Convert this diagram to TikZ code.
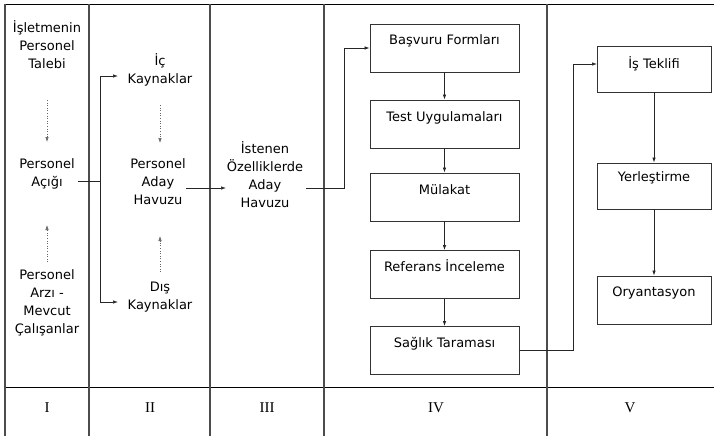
\documentclass[tikz,border=0pt]{standalone}
\usepackage{fontspec}
\setmainfont{DejaVu Sans}
\newfontfamily\romfont{Liberation Serif}
\usetikzlibrary{arrows.meta}
\begin{document}
\begin{tikzpicture}[x=1pt,y=-1pt,
  txt/.style={align=center,inner sep=0pt,font=\fontsize{13}{18}\selectfont},
  rom/.style={inner sep=0pt,font=\romfont\fontsize{15}{15}\selectfont},
  colline/.style={draw=black!70,line width=1.1pt},
  rowline/.style={draw=black,line width=0.9pt},
  boxiv/.style={draw=black!80,line width=0.9pt,minimum width=149pt,minimum height=48pt,
     inner xsep=0pt,inner ysep=4pt,text height=17pt,text depth=23pt,align=center,
     font=\fontsize{13}{15}\selectfont},
  boxv/.style={draw=black!80,line width=0.9pt,minimum width=114pt,inner xsep=0pt,inner ysep=0pt,
     align=center,font=\fontsize{13}{15}\selectfont},
  conn/.style={draw=black!85,line width=0.7pt,-{Latex[length=5pt,width=3.5pt]}},
  plain/.style={draw=black!85,line width=0.7pt},
  dots/.style={draw=black!60,line width=0.6pt,dotted,-{Latex[length=5pt,width=3.5pt]}}
]
\useasboundingbox (0,0) rectangle (714,436);
% frame
\draw[rowline] (5,4) -- (714,4);
\draw[rowline] (5,387) -- (714,387);
\draw[colline] (5,4) -- (5,436);
\foreach \xx in {89,210,324,547} \draw[colline] (\xx,4) -- (\xx,436);
% column I
\node[txt] (t1) at (47,45) {İşletmenin\\Personel\\Talebi};
\node[txt] (a1) at (47,174) {Personel\\Açığı};
\node[txt] (m1) at (47,303) {Personel\\Arzı -\\Mevcut\\Çalışanlar};
\coordinate (d1s) at (47,100); \coordinate (d1e) at (47,142);
\coordinate (d2s) at (47,262); \coordinate (d2e) at (47,225);
\draw[dots] (d1s) -- (d1e);
\draw[dots] (d2s) -- (d2e);
% column II
\node[txt] (ic) at (160,70) {İç\\Kaynaklar};
\node[txt] (pah) at (158,182) {Personel\\Aday\\Havuzu};
\node[txt] (dis) at (160,297) {Dış\\Kaynaklar};
\coordinate (d3s) at (160,105); \coordinate (d3e) at (160,143);
\coordinate (d4s) at (160,272); \coordinate (d4e) at (160,236);
\draw[dots] (d3s) -- (d3e);
\draw[dots] (d4s) -- (d4e);
\coordinate (a1o) at (78,181);
\coordinate (j1) at (100,181);
\coordinate (ici) at (118,76);
\coordinate (disi) at (118,302);
\draw[plain] (a1o) -- (j1);
\draw[conn] (j1) |- (ici);
\draw[conn] (j1) |- (disi);
% column III
\node[txt] (ist) at (265,175) {İstenen\\Özelliklerde\\Aday\\Havuzu};
\coordinate (pho) at (186,188);
\coordinate (isti) at (226,188);
\draw[conn] (pho) -- (isti);
% column IV
\node[boxiv] (b1) at (444.5,48) {Başvuru Formları};
\node[boxiv] (b2) at (444.5,124) {Test Uygulamaları};
\node[boxiv] (b3) at (444.5,197) {Mülakat};
\node[boxiv] (b4) at (444.5,274.5) {Referans İnceleme};
\node[boxiv] (b5) at (444.5,350.5) {Sağlık Taraması};
\coordinate (isto) at (306,188);
\draw[conn] (isto) -- (344,188) |- (b1.west);
\draw[conn] (b1) -- (b2);
\draw[conn] (b2) -- (b3);
\draw[conn] (b3) -- (b4);
\draw[conn] (b4) -- (b5);
% column V
\node[boxv,minimum height=46pt,text height=22pt,text depth=24pt] (c1) at (654,69) {İş Teklifi};
\node[boxv,minimum height=46pt,text height=18.5pt,text depth=27.5pt] (c2) at (654,186) {Yerleştirme};
\node[boxv,minimum height=48pt,text height=20.5pt,text depth=27.5pt] (c3) at (654,300) {Oryantasyon};
\coordinate (c1i) at (597,64);
\draw[conn] (b5.east) -- (573,350.5) |- (c1i);
\draw[conn] (c1) -- (c2);
\draw[conn] (c2) -- (c3);
% roman numerals
\node[rom] (r1) at (47,408) {I};
\node[rom] (r2) at (150,408) {II};
\node[rom] (r3) at (267,408) {III};
\node[rom] (r4) at (436,408) {IV};
\node[rom] (r5) at (630,408) {V};
\end{tikzpicture}
\end{document}
